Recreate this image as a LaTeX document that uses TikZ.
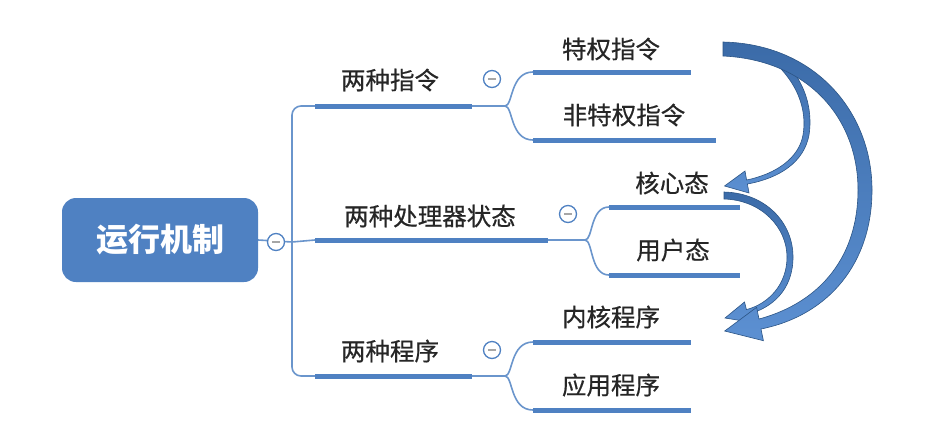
\documentclass[tikz,border=0pt]{standalone}
\usepackage{fontspec}
\newfontfamily\cjk[FakeBold=0.5]{Noto Sans CJK SC}
\newfontfamily\cjkroot{Noto Sans CJK SC}
\definecolor{mblue}{HTML}{4F81C2}
\definecolor{lblue}{HTML}{6A95CC}
\definecolor{atop}{HTML}{3B6BA8}
\definecolor{abot}{HTML}{5C90D2}
\definecolor{adark}{HTML}{2C5586}
\begin{document}
\begin{tikzpicture}[x=1pt,y=-1pt,
  txt/.style={font=\cjk\fontsize{24.5}{28}\selectfont, text=black!85, inner sep=0pt},
  uline/.style={line width=5pt, draw=mblue},
  thinln/.style={line width=1.6pt, draw=lblue},
  fold/.style={circle, draw=mblue, line width=1.3pt, fill=white, minimum size=17pt, inner sep=0pt,
    path picture={\draw[gray!70, line width=1.6pt] ([xshift=-4pt]path picture bounding box.center) -- ([xshift=4pt]path picture bounding box.center);}},
  bigarrow/.style={top color=atop, bottom color=abot, draw=adark, line width=0.6pt}]
\useasboundingbox (0,0) rectangle (947,440);
\fill[white] (0,0) rectangle (947,440);

% root
\node[fill=mblue, rounded corners=14pt, minimum width=196pt, minimum height=84pt, text=white,
      font=\cjkroot\bfseries\fontsize{32}{36}\selectfont] (root) at (160,240) {运行机制};
\coordinate (trunk) at (292,242);
\coordinate (b1a) at (315,106); \coordinate (b1b) at (472,106); \coordinate (b1m) at (505,106);
\coordinate (b2a) at (315,240); \coordinate (b2b) at (548,240); \coordinate (b2m) at (585,240);
\coordinate (b3a) at (315,376); \coordinate (b3b) at (472,376); \coordinate (b3m) at (505,376);
\coordinate (c1a) at (533,72);  \coordinate (c1b) at (691,72);
\coordinate (c2a) at (533,140); \coordinate (c2b) at (716,140);
\coordinate (c3a) at (609,207); \coordinate (c3b) at (740,207);
\coordinate (c4a) at (609,275); \coordinate (c4b) at (740,275);
\coordinate (c5a) at (533,342); \coordinate (c5b) at (691,342);
\coordinate (c6a) at (533,410); \coordinate (c6b) at (691,410);

% connectors
\draw[thinln] (root.east) -- (trunk);
\draw[thinln, rounded corners=9pt] (b1a) -- (292,106) -- (292,376) -- (b3a);
\draw[thinln] (trunk) -- (b2a);
\draw[thinln] (b1b) -- (b1m);
\draw[thinln] (b2b) -- (b2m);
\draw[thinln] (b3b) -- (b3m);
\draw[thinln] (b1m) .. controls (513,106) and (510,72) .. (c1a);
\draw[thinln] (b1m) .. controls (513,106) and (510,140) .. (c2a);
\draw[thinln] (b2m) .. controls (593,240) and (590,207) .. (c3a);
\draw[thinln] (b2m) .. controls (593,240) and (590,275) .. (c4a);
\draw[thinln] (b3m) .. controls (513,376) and (510,342) .. (c5a);
\draw[thinln] (b3m) .. controls (513,376) and (510,410) .. (c6a);

% underlines
\draw[uline] (b1a) -- (b1b);
\draw[uline] (b2a) -- (b2b);
\draw[uline] (b3a) -- (b3b);
\draw[uline] (c1a) -- (c1b);
\draw[uline] (c2a) -- (c2b);
\draw[uline] (c3a) -- (c3b);
\draw[uline] (c4a) -- (c4b);
\draw[uline] (c5a) -- (c5b);
\draw[uline] (c6a) -- (c6b);

% fold circles
\node[fold] (f0) at (276,242) {};
\node[fold] (f1) at (492,79) {};
\node[fold] (f2) at (568,214) {};
\node[fold] (f3) at (492,350) {};

% texts
\node[txt] (t1) at (390,80) {两种指令};
\node[txt] (t2) at (430,216) {两种处理器状态};
\node[txt] (t3) at (390,351) {两种程序};
\node[txt] (l1) at (611,49) {特权指令};
\node[txt] (l2) at (624,115) {非特权指令};
\node[txt] (l3) at (672,183) {核心态};
\node[txt] (l4) at (673,250) {用户态};
\node[txt] (l5) at (611,317) {内核程序};
\node[txt] (l6) at (611,385) {应用程序};

% curved arrows
\path[bigarrow] (770,50) .. controls (806,74) and (813,110) .. (809,135)
  .. controls (804,162) and (780,178) .. (747.4,184) -- (749,193) -- (724.5,186) -- (745,171)
  -- (746.6,180) .. controls (776,174) and (799,158) .. (803,135)
  .. controls (807,112) and (800,80) .. (762,52) -- cycle;
\path[bigarrow] (724,192) .. controls (765,193) and (793,222) .. (793,257)
  .. controls (793,290) and (772,308) .. (747.6,314.4) -- (749.5,322) -- (725,318) -- (744.5,302)
  -- (746.4,309.6) .. controls (768,304) and (787,285) .. (787,257)
  .. controls (787,228) and (762,200) .. (724,199) -- cycle;
\path[bigarrow] (723,42) .. controls (815,44) and (872,112) .. (872,190)
  .. controls (872,262) and (830,315) .. (761,329) -- (763.4,340.7) -- (724.7,331) -- (756.6,307.3)
  -- (759,319) .. controls (822,302) and (858,255) .. (858,190)
  .. controls (858,118) and (808,60) .. (723,56) -- cycle;
\end{tikzpicture}
\end{document}
